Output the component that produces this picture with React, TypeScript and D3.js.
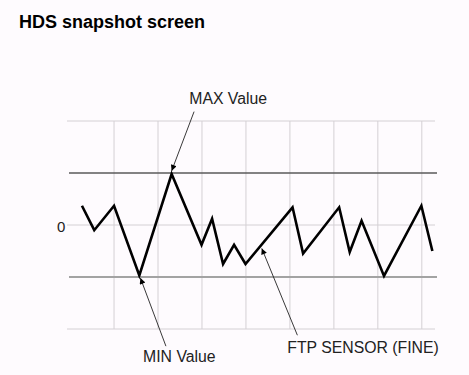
import React from 'react';
import * as d3 from 'd3';

// sample times (grid divisions) and sensor readings (grid units, 0 = centre)
const sampleTimes = [0.27, 0.55, 1.0, 1.575, 2.31, 2.99, 3.23, 3.48, 3.73, 3.99, 5.06, 5.3, 6.12, 6.36, 6.63, 7.14, 7.99, 8.24];
const sensorValues = [0.37, -0.1, 0.37, -0.97, 0.98, -0.38, 0.12, -0.75, -0.38, -0.75, 0.34, -0.55, 0.34, -0.52, 0.08, -0.98, 0.37, -0.5];
const gridTimes = [1, 2, 3, 4, 5, 6, 7, 8];
const gridLevels = [2, 0, -2];
const maxLevel = 1;
const minLevel = -1;

// annotations: label, arrow tip [time, value], arrow tail, label anchor
const notes = [
  { label: 'MAX Value', tip: [2.31, 1.04], tail: [2.82, 2.18], text: [2.71, 2.33] },
  { label: 'MIN Value', tip: [1.6, -1.02], tail: [2.18, -2.33], text: [1.66, -2.64] },
  { label: 'FTP SENSOR (FINE)', tip: [4.36, -0.45], tail: [5.17, -2.12], text: [4.94, -2.46] },
];

const width = 469, height = 375;

export default function App() {
  const x = d3.scaleLinear().domain([-0.07, 8.3]).range([67, 435]);
  const y = d3.scaleLinear().domain([-2, 2]).range([329, 121]);

  const pts: [number, number][] = sampleTimes.map((t, i) => [t, sensorValues[i]]);
  const line = d3.line<[number, number]>().x(d => x(d[0])).y(d => y(d[1]));

  const font = '"Liberation Sans", Arial, sans-serif';

  return (
    <div style={{ position: 'absolute', left: 0, top: 0 }}>
      <svg width={width} height={height} style={{ display: 'block', background: '#fefbfe' }}>
        <defs>
          <marker id="head" viewBox="0 0 10 10" refX="10" refY="5" markerWidth="9" markerHeight="6"
            markerUnits="userSpaceOnUse" orient="auto">
            <path d="M0,0 L10,5 L0,10 z" fill="#000" />
          </marker>
        </defs>
        <text x={19} y={27.7} fontFamily={font} fontWeight="bold" fontSize={18} fill="#000">HDS snapshot screen</text>

        {gridTimes.map(t => (
          <line key={'v' + t} x1={x(t)} x2={x(t)} y1={y(2)} y2={y(-2)} stroke="#d4d0d4" strokeWidth={1} />
        ))}
        {gridLevels.map(v => (
          <line key={'h' + v} x1={x.range()[0]} x2={x.range()[1]} y1={y(v)} y2={y(v)} stroke="#d4d0d4" strokeWidth={1} />
        ))}
        <line x1={x.range()[0] + 2} x2={x.range()[1] + 2} y1={y(maxLevel)} y2={y(maxLevel)} stroke="#5a5a5a" strokeWidth={1.3} />
        <line x1={x.range()[0] + 2} x2={x.range()[1] + 2} y1={y(minLevel)} y2={y(minLevel)} stroke="#a3a3a3" strokeWidth={2} />

        <text x={57} y={y(0) + 7} fontFamily={font} fontSize={15} fill="#222">0</text>

        <path d={line(pts) || ''} fill="none" stroke="#000" strokeWidth={2.6} strokeLinejoin="miter" />

        {notes.map(n => (
          <g key={n.label}>
            <line x1={x(n.tail[0])} y1={y(n.tail[1])} x2={x(n.tip[0])} y2={y(n.tip[1])}
              stroke="#222" strokeWidth={0.9} markerEnd="url(#head)" />
            <text x={x(n.text[0])} y={y(n.text[1])} fontFamily={font} fontSize={15.8} fill="#222">{n.label}</text>
          </g>
        ))}
      </svg>
    </div>
  );
}
